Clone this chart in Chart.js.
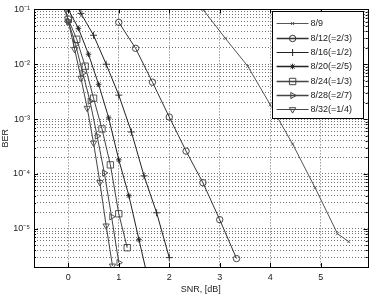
<!DOCTYPE html>
<html>
<head>
<meta charset="utf-8">
<script src="https://cdn.jsdelivr.net/npm/chart.js@4/dist/chart.umd.min.js"></script>
<style>
  html, body { margin: 0; padding: 0; background: #fff; }
  #wrap { width: 373px; height: 296px; position: relative; }
</style>
</head>
<body>
<div id="wrap"><canvas id="c" width="373" height="296"></canvas></div>
<script>
// ---- data ----
const seriesNames = ['8/9', '8/12(=2/3)', '8/16(=1/2)', '8/20(=2/5)', '8/24(=1/3)', '8/28(=2/7)', '8/32(=1/4)'];

const snr_8_9  = [2.667, 3.111, 3.556, 4.0, 4.444, 4.889, 5.333, 5.556];
const ber_8_9  = [0.1, 0.0297, 9.2e-3, 1.83e-3, 3.5e-4, 5.6e-5, 8.1e-6, 5.8e-6];

const snr_8_12 = [1.0, 1.333, 1.667, 2.0, 2.333, 2.667, 3.0, 3.333];
const ber_8_12 = [0.058, 0.0195, 4.7e-3, 1.09e-3, 2.6e-4, 6.9e-5, 1.46e-5, 2.85e-6];

const snr_8_16 = [0, 0.25, 0.5, 0.75, 1.0, 1.25, 1.5, 1.75, 2.0];
const ber_8_16 = [0.22, 0.0846, 0.0337, 0.01, 2.73e-3, 5.8e-4, 9.2e-5, 1.95e-5, 2.97e-6];

const snr_8_20 = [0, 0.2, 0.4, 0.6, 0.8, 1.0, 1.2, 1.4, 1.6];
const ber_8_20 = [0.1, 0.045, 0.0152, 4.3e-3, 1.05e-3, 1.8e-4, 4.0e-5, 6.3e-6, 1.0e-6];

const snr_8_24 = [-0.167, 0, 0.167, 0.333, 0.5, 0.667, 0.833, 1.0, 1.167];
const ber_8_24 = [0.153, 0.066, 0.0285, 9.2e-3, 2.4e-3, 6.6e-4, 1.46e-4, 1.87e-5, 4.5e-6];

const snr_8_28 = [0, 0.143, 0.286, 0.429, 0.571, 0.714, 0.857, 1.0];
const ber_8_28 = [0.06, 0.023, 6.9e-3, 2.12e-3, 4.9e-4, 1.04e-4, 1.65e-5, 2.4e-6];

const snr_8_32 = [-0.125, 0, 0.125, 0.25, 0.375, 0.5, 0.625, 0.75, 0.875];
const ber_8_32 = [0.2, 0.06, 0.0187, 5.6e-3, 1.58e-3, 3.66e-4, 7.0e-5, 1.13e-5, 2.1e-6];

const xTicks = [0, 1, 2, 3, 4, 5];
const yDecades = [1e-5, 1e-4, 1e-3, 1e-2, 1e-1];
const yDecadeLabels = ['10\u207B\u2075', '10\u207B\u2074', '10\u207B\u00B3', '10\u207B\u00B2', '10\u207B\u00B9'];

// ---- styles ----
const styles = [
  { pointStyle: 'crossRot', radius: 2.2, color: '#555', width: 1 },
  { pointStyle: 'circle',   radius: 3.2, color: '#333', width: 1 },
  { pointStyle: 'cross',    radius: 3.5, color: '#222', width: 1 },
  { pointStyle: 'star',     radius: 2.8, color: '#222', width: 1 },
  { pointStyle: 'rect',     radius: 4.5, color: '#444', width: 1 },
  { pointStyle: 'triangle', radius: 3.6, color: '#444', width: 1, rotation: 90 },
  { pointStyle: 'triangle', radius: 3.6, color: '#444', width: 1, rotation: 180 }
];

const xs = [snr_8_9, snr_8_12, snr_8_16, snr_8_20, snr_8_24, snr_8_28, snr_8_32];
const ys = [ber_8_9, ber_8_12, ber_8_16, ber_8_20, ber_8_24, ber_8_28, ber_8_32];

const datasets = seriesNames.map((name, i) => ({
  label: name,
  data: xs[i].map((x, j) => ({ x: x, y: ys[i][j] })),
  borderColor: styles[i].color,
  borderWidth: styles[i].width,
  pointStyle: styles[i].pointStyle,
  pointRadius: styles[i].radius,
  pointRotation: styles[i].rotation || 0,
  pointBorderColor: styles[i].color,
  pointBackgroundColor: 'rgba(0,0,0,0)',
  pointBorderWidth: 0.9,
  fill: false,
  tension: 0,
  showLine: true
}));

const FONT = 'Liberation Sans, Arial, sans-serif';

// minor/major log ticks
function logTicks(min, max) {
  const out = [];
  for (let e = -7; e <= 0; e++) {
    for (let m = 1; m <= 9; m++) {
      const v = m * Math.pow(10, e);
      if (v >= min * 0.9999 && v <= max * 1.0001) out.push({ value: v, major: m === 1 });
    }
  }
  return out;
}

const boxAndTicks = {
  id: 'boxAndTicks',
  afterDatasetsDraw(chart) {
    const ctx = chart.ctx, a = chart.chartArea;
    const xs_ = chart.scales.x, ys_ = chart.scales.y;
    ctx.save();
    ctx.strokeStyle = '#000';
    ctx.lineWidth = 1;
    ctx.setLineDash([]);
    // inner ticks
    ctx.beginPath();
    xTicks.forEach(v => {
      const px = Math.round(xs_.getPixelForValue(v)) + 0.5;
      ctx.moveTo(px, a.bottom); ctx.lineTo(px, a.bottom - 4);
      ctx.moveTo(px, a.top); ctx.lineTo(px, a.top + 4);
    });
    ys_.ticks.forEach(t => {
      const py = Math.round(ys_.getPixelForValue(t.value)) + 0.5;
      const len = t.major ? 4 : 2;
      ctx.moveTo(a.left, py); ctx.lineTo(a.left + len, py);
      ctx.moveTo(a.right, py); ctx.lineTo(a.right - len, py);
    });
    ctx.stroke();
    ctx.strokeRect(Math.round(a.left) + 0.5, Math.round(a.top) + 0.5,
                   Math.round(a.right - a.left), Math.round(a.bottom - a.top));

    // legend box
    const lx = a.right - 96, ly = a.top + 2, lw = 91, lh = 107;
    ctx.fillStyle = '#fff';
    ctx.fillRect(lx, ly, lw, lh);
    ctx.strokeStyle = '#000';
    ctx.strokeRect(Math.round(lx) + 0.5, Math.round(ly) + 0.5, lw, lh);
    ctx.font = '9px ' + FONT;
    ctx.textBaseline = 'middle';
    ctx.textAlign = 'left';
    seriesNames.forEach((name, i) => {
      const y = Math.round(ly + 12 + i * 14.3) + 0.5;
      const st = styles[i];
      ctx.strokeStyle = st.color;
      ctx.lineWidth = (i === 1 || i === 3 || i === 4 || i === 5) ? 1.6 : 1;
      ctx.beginPath();
      ctx.moveTo(lx + 5, y); ctx.lineTo(lx + 37, y);
      ctx.stroke();
      ctx.lineWidth = 1;
      ctx.fillStyle = 'rgba(0,0,0,0)';
      if (Chart.helpers && Chart.helpers.drawPoint) {
        Chart.helpers.drawPoint(ctx, { pointStyle: st.pointStyle, radius: st.radius, rotation: st.rotation || 0, borderWidth: 1 }, lx + 21, y);
      }
      ctx.fillStyle = '#222';
      ctx.fillText(name, lx + 39, y);
    });
    ctx.restore();
  }
};

new Chart(document.getElementById('c'), {
  type: 'scatter',
  data: { datasets },
  plugins: [boxAndTicks],
  options: {
    responsive: false,
    animation: false,
    events: [],
    layout: { padding: { top: 8, right: 4, left: 0, bottom: 0 } },
    plugins: { legend: { display: false }, tooltip: { enabled: false } },
    scales: {
      x: {
        type: 'linear',
        min: -0.68,
        max: 5.93,
        afterBuildTicks(scale) { scale.ticks = xTicks.map(v => ({ value: v })); },
        afterFit(scale) { scale.height = 29; },
        grid: { color: 'rgba(0,0,0,0.6)', drawTicks: false, lineWidth: 1 },
        border: { display: false, dash: [1, 2] },
        ticks: { color: '#222', font: { family: FONT, size: 9 }, padding: 5, maxRotation: 0,
                 callback: v => String(v) },
        title: { display: true, text: 'SNR, [dB]', color: '#222', font: { family: FONT, size: 9 },
                 padding: { top: 0, bottom: 1 } }
      },
      y: {
        type: 'logarithmic',
        min: 2e-6,
        max: 0.1,
        afterBuildTicks(scale) { scale.ticks = logTicks(2e-6, 0.1); },
        afterFit(scale) { scale.width = 34; },
        grid: { color: 'rgba(0,0,0,0.55)', drawTicks: false, lineWidth: 1 },
        border: { display: false, dash: [1, 2] },
        ticks: {
          color: '#222', font: { family: FONT, size: 9 }, padding: 4, autoSkip: false,
          callback: function (v) {
            const k = yDecades.findIndex(d => Math.abs(d - v) / d < 1e-6);
            return k >= 0 ? yDecadeLabels[k] : '';
          }
        },
        title: { display: true, text: 'BER', color: '#222', font: { family: FONT, size: 9 }, padding: 0 }
      }
    }
  }
});
</script>
</body>
</html>
